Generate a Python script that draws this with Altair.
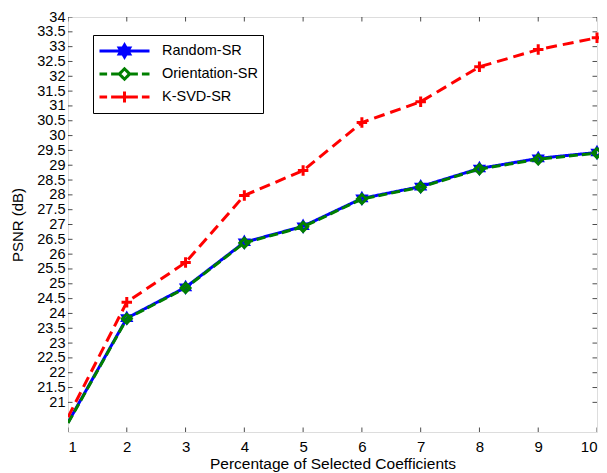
import altair as alt
import pandas as pd

# ---- data ----
pct = [1, 2, 3, 4, 5, 6, 7, 8, 9, 10]
random_sr = [20.32, 23.84, 24.88, 26.40, 26.94, 27.88, 28.28, 28.89, 29.23, 29.43]
orient_sr = [20.30, 23.82, 24.86, 26.38, 26.92, 27.86, 28.26, 28.87, 29.20, 29.41]
ksvd_sr = [20.50, 24.38, 25.72, 27.98, 28.82, 30.44, 31.14, 32.32, 32.90, 33.30]

series_names = ["Random-SR", "Orientation-SR", "K-SVD-SR"]
series_colors = ["#0000ff", "#007f00", "#ff0000"]
series_dash = [[1, 0], [9, 4], [11, 6]]

y_ticks = [21, 21.5, 22, 22.5, 23, 23.5, 24, 24.5, 25, 25.5, 26, 26.5, 27, 27.5,
           28, 28.5, 29, 29.5, 30, 30.5, 31, 31.5, 32, 32.5, 33, 33.5, 34]
x_ticks = [1, 2, 3, 4, 5, 6, 7, 8, 9, 10]
x_domain = [1, 10]
y_domain = [20, 34]

rows = []
for name, vals in zip(series_names, [random_sr, orient_sr, ksvd_sr]):
    for x, v in zip(pct, vals):
        rows.append({"x": x, "y": v, "series": name})
df = pd.DataFrame(rows)
df_yt = pd.DataFrame({"t": y_ticks})
df_xt = pd.DataFrame({"t": x_ticks})

FONT = "Liberation Sans"
W, H = 529, 415

xs = alt.Scale(domain=x_domain, nice=False, zero=False)
ys = alt.Scale(domain=y_domain, nice=False, zero=False)

x_axis = alt.Axis(
    values=x_ticks, title="Percentage of Selected Coefficients", grid=False,
    domain=False, ticks=False, labelPadding=7, titlePadding=2,
    labelFont=FONT, labelFontSize=15, titleFont=FONT, titleFontSize=15.5,
    titleFontWeight="normal", labelColor="black", titleColor="black", format="d",
    labelOverlap=False)
y_axis = alt.Axis(
    values=y_ticks, title="PSNR (dB)", grid=False, domain=False, ticks=False,
    labelPadding=3, titlePadding=11, labelFont=FONT, labelFontSize=14.5,
    titleFont=FONT, titleFontSize=15, titleFontWeight="normal",
    labelColor="black", titleColor="black", labelOverlap=False, labelFlush=False,
    labelExpr="'' + datum.value")

HEX = "M0,-1L0.866,0.5L-0.866,0.5ZM0,1L0.866,-0.5L-0.866,-0.5Z"
PLUS = "M-1,0L1,0M0,-1L0,1"
marker_shape = [HEX, "diamond", PLUS]
marker_size = [120, 80, 110]
marker_sw = [2.2, 3, 3]

# legend symbols, in units of 8 px (symbolSize 256); span -1..5.25 = 50 px
LEG_RANDOM = ("M-1,0L5.25,0"
              "M2.125,-0.75L2.775,0.375L1.475,0.375Z"
              "M2.125,0.75L2.775,-0.375L1.475,-0.375Z")
LEG_ORIENT = ("M-1,0L-0.05,0M0.45,0L1.45,0"
              "M2.125,-0.65L2.775,0L2.125,0.65L1.475,0Z"
              "M2.8,0L3.8,0M4.3,0L5.25,0")
LEG_KSVD = ("M-1,0L-0.05,0M0.45,0L3.8,0M4.3,0L5.25,0"
            "M2.125,-0.7L2.125,0.7")

shape_expr = (
    f"datum.value === 'Random-SR' ? '{LEG_RANDOM}' : "
    f"(datum.value === 'Orientation-SR' ? '{LEG_ORIENT}' : '{LEG_KSVD}')"
)

legend = alt.Legend(
    title=None, orient="none", legendX=25, legendY=18,
    strokeColor="black", fillColor="white", padding=5, cornerRadius=0,
    labelFont=FONT, labelFontSize=14.5, labelColor="black",
    symbolSize=256, symbolStrokeWidth=3, labelOffset=45, rowPadding=1,
    clipHeight=22,
    symbolType=alt.ExprRef(shape_expr), symbolFillColor="transparent",
    symbolDash=[1, 0],
)

X = lambda f: alt.X(f, scale=xs, axis=x_axis)
Y = lambda f: alt.Y(f, scale=ys, axis=y_axis)

# legend-only layer (no data rows drawn; domain is explicit)
legend_layer = alt.Chart(df).mark_line(strokeWidth=3).encode(
    x=X("x:Q"), y=Y("y:Q"),
    color=alt.Color("series:N", scale=alt.Scale(domain=series_names, range=series_colors), legend=legend),
).transform_filter("false")

series_layers = []
for name, col, dash, shp, sz, sw in zip(series_names, series_colors, series_dash,
                                        marker_shape, marker_size, marker_sw):
    sdf = df[df["series"] == name]
    ln = alt.Chart(sdf).mark_line(strokeWidth=3, color=col, strokeDash=dash, clip=True).encode(
        x=X("x:Q"), y=Y("y:Q"), order=alt.Order("x:Q"))
    pt = alt.Chart(sdf[sdf["x"] > 1]).mark_point(
        shape=shp, size=sz, filled=False, strokeWidth=sw, color=col, opacity=1
    ).encode(x=X("x:Q"), y=Y("y:Q"))
    series_layers += [ln, pt]

def yticks(at):
    return alt.Chart(df_yt).mark_tick(orient="horizontal", size=9, thickness=1, clip=True, color="black").encode(
        y=Y("t:Q"), x=alt.X(datum=at, scale=xs, axis=x_axis))

def xticks(at):
    return alt.Chart(df_xt).mark_tick(orient="vertical", size=9, thickness=1, clip=True, color="black").encode(
        x=X("t:Q"), y=alt.Y(datum=at, scale=ys, axis=y_axis))

chart = alt.layer(
    legend_layer,
    yticks(x_domain[0]), yticks(x_domain[1]), xticks(y_domain[0]), xticks(y_domain[1]),
    *series_layers,
).properties(
    width=W, height=H,
    autosize=alt.AutoSizeParams(type="none"),
    padding={"left": 60, "top": 9, "right": 2, "bottom": 41},
).configure_view(stroke="black", strokeWidth=1).configure(background="white")

chart.save("out.html", embed_options={"renderer": "svg", "actions": False})
